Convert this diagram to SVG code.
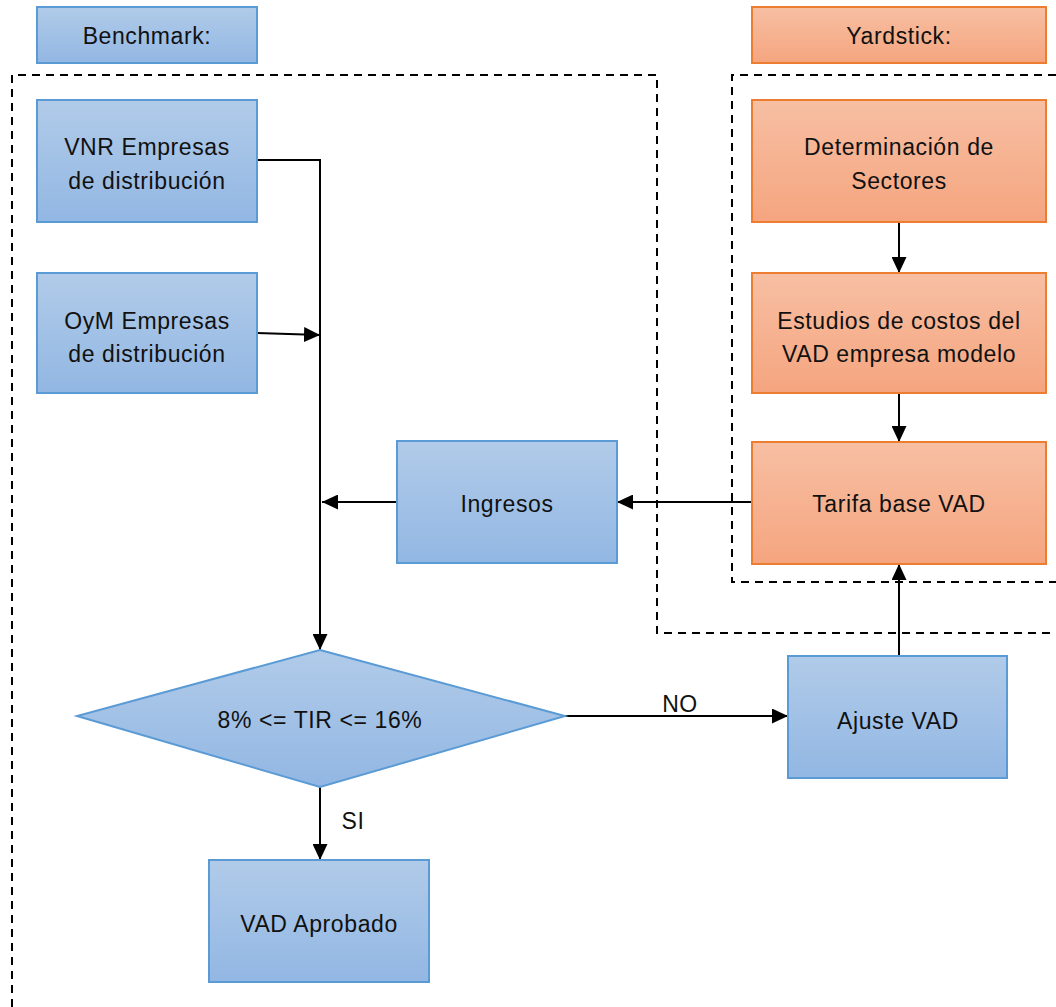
<svg xmlns="http://www.w3.org/2000/svg" width="1056" height="1007" viewBox="0 0 1056 1007">
  <style>
    .blue { fill: url(#gBlue); stroke: #5b9bd5; stroke-width: 2; }
    .orange { fill: url(#gOrange); stroke: #ed7d31; stroke-width: 2; }
    .lbl { font-family: "Liberation Sans", Arial, sans-serif; font-size: 23px; letter-spacing: 0.6px; fill: #111; text-anchor: middle; }
    .edge { fill: none; stroke: #000; stroke-width: 2; }
    .arr { marker-end: url(#ah); }
    .zone { fill: none; stroke: #000; stroke-width: 2; stroke-dasharray: 8 6; }
  </style>
  <defs>
    <linearGradient id="gBlue" x1="0" y1="0" x2="0" y2="1">
      <stop offset="0" stop-color="#b1cbe9"/>
      <stop offset="1" stop-color="#92b7e3"/>
    </linearGradient>
    <linearGradient id="gOrange" x1="0" y1="0" x2="0" y2="1">
      <stop offset="0" stop-color="#f7bfa3"/>
      <stop offset="1" stop-color="#f5a57f"/>
    </linearGradient>
    <marker id="ah" viewBox="0 0 16 15" refX="16" refY="7.5" markerWidth="16" markerHeight="15" markerUnits="userSpaceOnUse" orient="auto">
      <path d="M0,0 L16,7.5 L0,15 Z" fill="#000"/>
    </marker>
  </defs>

  <!-- dashed zone outlines -->
  <g id="zones">
    <path class="zone" d="M12,1007 V75 H657 V633 H1056"/>
    <path class="zone" d="M1056,75 H732 V582 H1056"/>
  </g>

  <!-- connectors -->
  <g id="connectors">
    <path class="edge arr" d="M257,160 H320 V650"/>
    <path class="edge arr" d="M257,333 L320,335"/>
    <path class="edge arr" d="M397,502 H322"/>
    <path class="edge arr" d="M752,502 H617"/>
    <path class="edge arr" d="M899,222 V273"/>
    <path class="edge arr" d="M899,393 V442"/>
    <path class="edge arr" d="M899,656 V564"/>
    <path class="edge arr" d="M565,716 H788"/>
    <path class="edge arr" d="M320,787 V860"/>
    <text class="lbl" x="680" y="712">NO</text>
    <text class="lbl" x="353" y="829">SI</text>
  </g>

  <g id="benchmark">
    <rect class="blue" x="37" y="7" width="220" height="56"/>
    <text class="lbl" x="147" y="44">Benchmark:</text>
  </g>
  <g id="yardstick">
    <rect class="orange" x="752" y="7" width="294" height="56"/>
    <text class="lbl" x="899" y="44">Yardstick:</text>
  </g>

  <g id="vnr">
    <rect class="blue" x="37" y="100" width="220" height="122"/>
    <text class="lbl" x="147" y="155">VNR Empresas</text>
    <text class="lbl" x="147" y="189">de distribución</text>
  </g>
  <g id="oym">
    <rect class="blue" x="37" y="273" width="220" height="120"/>
    <text class="lbl" x="147" y="329">OyM Empresas</text>
    <text class="lbl" x="147" y="362">de distribución</text>
  </g>

  <g id="sectores">
    <rect class="orange" x="752" y="100" width="294" height="122"/>
    <text class="lbl" x="899" y="155">Determinación de</text>
    <text class="lbl" x="899" y="189">Sectores</text>
  </g>
  <g id="estudios">
    <rect class="orange" x="752" y="273" width="294" height="120"/>
    <text class="lbl" x="899" y="329">Estudios de costos del</text>
    <text class="lbl" x="899" y="362">VAD empresa modelo</text>
  </g>
  <g id="tarifa">
    <rect class="orange" x="752" y="442" width="294" height="122"/>
    <text class="lbl" x="899" y="512">Tarifa base VAD</text>
  </g>

  <g id="ingresos">
    <rect class="blue" x="397" y="441" width="220" height="122"/>
    <text class="lbl" x="507" y="512">Ingresos</text>
  </g>

  <g id="decision">
    <polygon class="blue" points="320,650 565,716 320,787 77,716"/>
    <text class="lbl" x="320" y="728">8% &lt;= TIR &lt;= 16%</text>
  </g>

  <g id="ajuste">
    <rect class="blue" x="788" y="656" width="219" height="122"/>
    <text class="lbl" x="898" y="729">Ajuste VAD</text>
  </g>

  <g id="aprobado">
    <rect class="blue" x="209" y="860" width="220" height="122"/>
    <text class="lbl" x="319" y="932">VAD Aprobado</text>
  </g>
</svg>
